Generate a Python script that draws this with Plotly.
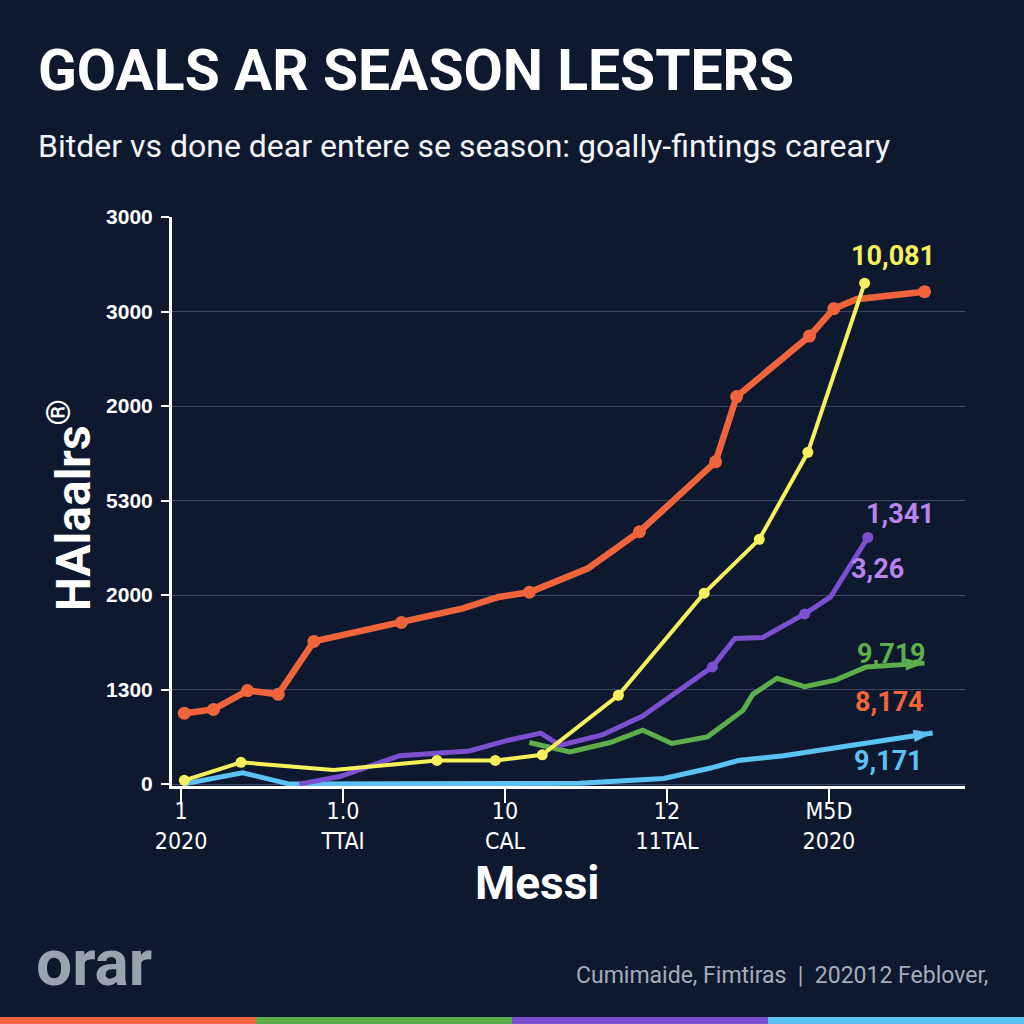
import plotly.graph_objects as go

# ---------------- data ----------------
y_tick_vals = [0, 1, 2, 3, 4, 5, 6]
y_tick_text = ["0", "1300", "2000", "5300", "2000", "3000", "3000"]
x_tick_vals = [0, 1, 2, 3, 4]
x_tick_text = ["1<br>2020", "1.0<br>TTAI", "10<br>CAL", "12<br>11TAL", "M5D<br>2020"]

orange_x = [0.02, 0.20, 0.41, 0.60, 0.82, 1.36, 1.74, 1.96, 2.15, 2.51, 2.71, 2.83, 3.30, 3.43, 3.88, 4.03, 4.17, 4.59]
orange_y = [0.75, 0.79, 0.99, 0.95, 1.51, 1.71, 1.86, 1.98, 2.03, 2.28, 2.52, 2.67, 3.41, 4.10, 4.74, 5.03, 5.13, 5.21]

yellow_x = [0.02, 0.37, 0.94, 1.58, 1.94, 2.23, 2.70, 3.23, 3.57, 3.87, 4.22]
yellow_y = [0.04, 0.23, 0.15, 0.25, 0.25, 0.31, 0.94, 2.02, 2.59, 3.51, 5.30]

purple_x = [0.73, 0.98, 1.35, 1.78, 2.01, 2.22, 2.34, 2.60, 2.85, 3.28, 3.42, 3.59, 3.85, 4.01, 4.24]
purple_y = [0.00, 0.08, 0.30, 0.35, 0.46, 0.54, 0.41, 0.52, 0.72, 1.24, 1.54, 1.55, 1.80, 1.98, 2.61]

green_x = [2.15, 2.40, 2.65, 2.85, 3.03, 3.25, 3.47, 3.53, 3.68, 3.85, 4.04, 4.23, 4.59]
green_y = [0.44, 0.34, 0.44, 0.57, 0.43, 0.50, 0.78, 0.95, 1.12, 1.03, 1.10, 1.24, 1.28]

blue_x = [0.01, 0.38, 0.67, 1.85, 2.46, 2.98, 3.27, 3.44, 3.72, 4.64]
blue_y = [0.00, 0.12, 0.00, 0.00, 0.01, 0.06, 0.17, 0.25, 0.30, 0.54]

end_labels = {
    "yellow": ["10,081"],
    "purple": ["1,341", "3,26"],
    "green": ["9,719", "8,174"],
    "blue": ["9,171"],
}

# ---------------- style ----------------
BG = "#0E1930"
C_OR = "#F0643C"
C_YE = "#F6F05C"
C_PU = "#7B4FCF"
C_PU_L = "#B985EA"
C_GR = "#5EAF4B"
C_BL = "#5CC2F4"
GRID = "#3A4662"
COND = "DejaVu Sans Condensed, Roboto, sans-serif"

orange_marked = [1, 1, 1, 1, 1, 1, 0, 0, 1, 0, 0, 1, 1, 1, 1, 1, 0, 1]
yellow_marked = [1, 1, 0, 1, 1, 1, 1, 1, 1, 1, 1]
purple_marked = [0, 0, 0, 0, 0, 0, 0, 0, 0, 1, 0, 0, 1, 0, 1]

fig = go.Figure()

def sizes(mask, s):
    return [s if m else 0 for m in mask]

def arrow_marker(n, color):
    return dict(symbol=["circle"] * (n - 1) + ["arrow"],
                size=[0] * (n - 1) + [20],
                angleref="previous", color=color, opacity=1, line=dict(width=0))

def dot_marker(mask, s, color):
    return dict(size=sizes(mask, s), color=color, opacity=1, line=dict(width=0))

fig.add_trace(go.Scatter(
    x=blue_x, y=blue_y, mode="lines+markers",
    line=dict(color=C_BL, width=5),
    marker=arrow_marker(len(blue_x), C_BL),
    cliponaxis=False, hoverinfo="skip"))

fig.add_trace(go.Scatter(
    x=green_x, y=green_y, mode="lines+markers",
    line=dict(color=C_GR, width=5),
    marker=arrow_marker(len(green_x), C_GR),
    cliponaxis=False, hoverinfo="skip"))

fig.add_trace(go.Scatter(
    x=purple_x, y=purple_y, mode="lines+markers",
    line=dict(color=C_PU, width=5),
    marker=dot_marker(purple_marked, 11, C_PU),
    cliponaxis=False, hoverinfo="skip"))

fig.add_trace(go.Scatter(
    x=orange_x, y=orange_y, mode="lines+markers",
    line=dict(color=C_OR, width=6.5),
    marker=dot_marker(orange_marked, 13, C_OR),
    cliponaxis=False, hoverinfo="skip"))

fig.add_trace(go.Scatter(
    x=yellow_x, y=yellow_y, mode="lines+markers",
    line=dict(color=C_YE, width=4),
    marker=dot_marker(yellow_marked, 11, C_YE),
    cliponaxis=False, hoverinfo="skip"))

lab_font = dict(family="Roboto", size=27, weight="bold")
ann = []
def lab(text, x, y, color, xs, ys):
    ann.append(dict(x=x, y=y, xref="x", yref="y", text=text, showarrow=False,
                    xshift=xs, yshift=ys, font=dict(lab_font, color=color)))

lab(end_labels["yellow"][0], yellow_x[-1], yellow_y[-1], C_YE, 28, 27)
lab(end_labels["purple"][0], purple_x[-1], purple_y[-1], C_PU_L, 33, 23)
lab(end_labels["purple"][1], purple_x[-1], purple_y[-1], C_PU_L, 10, -32)
lab(end_labels["green"][0], green_x[-1], green_y[-1], C_GR, -33, 9)
lab(end_labels["green"][1], green_x[-1], green_y[-1], C_OR, -35, -39)
lab(end_labels["blue"][0], blue_x[-1], blue_y[-1], C_BL, -44, -28)

# titles / footer (pixel positions converted below)
ann.append(dict(x=36, y=1024 - 70, xref="paper", yref="paper", text="GOALS AR SEASON LESTERS",
                showarrow=False, xanchor="left", yanchor="middle",
                font=dict(family="Roboto", size=57, weight="bold", color="white")))
ann.append(dict(x=36, y=1024 - 146, xref="paper", yref="paper",
                text="Bitder vs done dear entere se season: goally-fintings careary",
                showarrow=False, xanchor="left", yanchor="middle",
                font=dict(family="Roboto", size=32, color="#F2F4F8")))
ann.append(dict(x=70, y=1024 - 505, xref="paper", yref="paper", text="HAlaalrs<sup>®</sup>",
                showarrow=False, textangle=-90, xanchor="center", yanchor="middle",
                font=dict(family="Roboto", size=48, weight="bold", color="white")))
ann.append(dict(x=537, y=1024 - 883, xref="paper", yref="paper", text="Messi",
                showarrow=False, xanchor="center", yanchor="middle",
                font=dict(family="Roboto", size=46, weight="bold", color="white")))
ann.append(dict(x=34, y=1024 - 963, xref="paper", yref="paper", text="orar",
                showarrow=False, xanchor="left", yanchor="middle",
                font=dict(family="Roboto", size=64, weight="bold", color="#9AA2B0")))
ann.append(dict(x=990, y=1024 - 975, xref="paper", yref="paper",
                text="Cumimaide, Fimtiras  |  202012 Feblover,",
                showarrow=False, xanchor="right", yanchor="middle",
                font=dict(family="Roboto", size=23, color="#A4ACBA")))

L, R, T, B = 172, 59, 217, 238
W, H = 1024 - L - R, 1024 - T - B
for a in ann:
    if a.get("xref") == "paper":
        a["x"] = (a["x"] - L) / W
        a["y"] = (a["y"] - B) / H

shapes = []
stripe_cols = [C_OR, C_GR, C_PU, C_BL]
for i, c in enumerate(stripe_cols):
    x0 = (i * 256 - L) / W
    x1 = ((i + 1) * 256 - L) / W
    shapes.append(dict(type="rect", xref="paper", yref="paper",
                       x0=x0, x1=x1, y0=(0 - B) / H, y1=(7 - B) / H,
                       fillcolor=c, line=dict(width=0), layer="below"))

fig.update_layout(
    width=1024, height=1024,
    paper_bgcolor=BG, plot_bgcolor=BG,
    margin=dict(l=L, r=R, t=T, b=B),
    showlegend=False,
    annotations=ann, shapes=shapes,
    xaxis=dict(range=[-0.056, 4.84], tickvals=x_tick_vals, ticktext=x_tick_text,
               showgrid=False, zeroline=False, showline=True, linecolor="white", linewidth=3,
               ticks="outside", ticklen=14, tickwidth=2, tickcolor="white",
               ticklabelstandoff=-12,
               tickfont=dict(family=COND, size=23, color="white")),
    yaxis=dict(range=[-0.02, 6.0], tickvals=y_tick_vals, ticktext=y_tick_text,
               showgrid=True, gridcolor=GRID, gridwidth=1, zeroline=False,
               showline=True, linecolor="white", linewidth=3,
               ticks="outside", ticklen=8, tickwidth=2, tickcolor="white",
               ticklabelstandoff=4,
               tickfont=dict(family="Liberation Sans", size=21, color="white", weight="bold")),
)

fig.write_html("out.html", config={"displayModeBar": False},
               post_script="document.body.style.margin='0';document.body.style.background='%s';" % BG)
